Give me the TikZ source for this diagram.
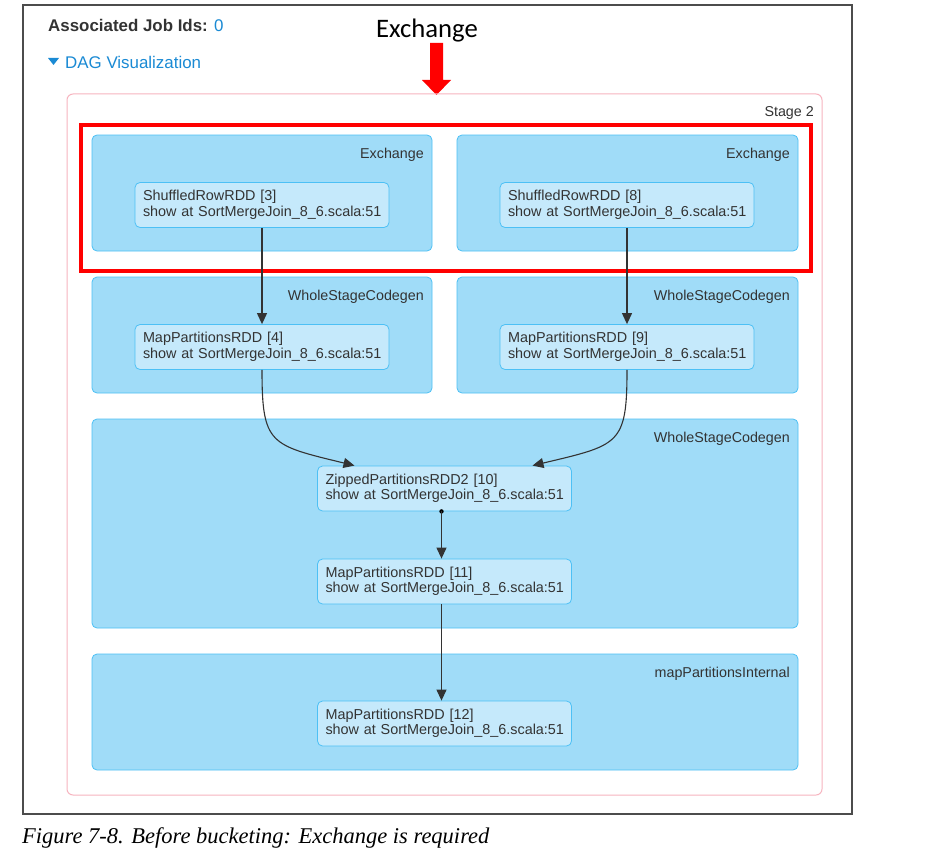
\documentclass[tikz,border=0pt]{standalone}
\usepackage{fontspec}
\setmainfont{Liberation Sans}
\newfontfamily\capfont{Liberation Serif}
\newfontfamily\calfont{Carlito}
\usetikzlibrary{arrows.meta,calc}
\definecolor{grpfill}{HTML}{A0DCF8}
\definecolor{grpline}{HTML}{4DC0F5}
\definecolor{ndfill}{HTML}{C5E9FB}
\definecolor{stageline}{HTML}{F7B5C0}
\definecolor{txt}{HTML}{333333}
\definecolor{link}{HTML}{1A8AD4}
\definecolor{hred}{HTML}{FF0000}
\newcommand{\rddtxt}[1]{\mbox{#1}\\\mbox{show at SortMergeJoin\_8\_6.scala:51}}
\tikzset{
  grp/.style={draw=grpline, fill=grpfill, rounded corners=5pt, line width=0.8pt},
  grplabel/.style={anchor=north east, inner sep=0pt, font=\fontsize{14.3}{16}\selectfont, text=txt},
  rdd/.style={draw=grpline, fill=ndfill, rounded corners=5pt, line width=0.8pt, align=left,
    text width=238pt, inner xsep=8pt, inner ysep=0pt, minimum height=45pt,
    font=\fontsize{14.4}{15.5}\selectfont, text=txt},
  edge/.style={draw=txt, line width=1.1pt, -{Triangle[length=11pt,width=10pt]}}
}
\begin{document}
\begin{tikzpicture}[x=1pt,y=-1pt]
\useasboundingbox (0,0) rectangle (947,856);
\fill[white] (0,0) rectangle (947,856);
% outer frame
\draw[line width=1.5pt, draw=black!70] (23,5) rectangle (852,814);
\node[anchor=west, inner sep=0pt, text=txt, font=\bfseries\fontsize{16.9}{19}\selectfont] (jobs) at (48,25) {Associated Job Ids: \textcolor{link}{\mdseries 0}};
\fill[link] (48,58) -- (59,58) -- (53.5,65) -- cycle;
\node[anchor=west, inner sep=0pt, text=link, font=\fontsize{16.9}{19}\selectfont] (dagvis) at (65,62) {DAG Visualization};
% annotation
\node[inner sep=0pt, font=\calfont\fontsize{26.7}{30}\selectfont] (exlabel) at (427,31) {Exchange};
\fill[hred] (430,43) -- (443,43) -- (443,80) -- (451,80) -- (436.5,95) -- (422,80) -- (430,80) -- cycle;
% stage
\draw[draw=stageline, rounded corners=6pt, line width=1pt] (67,94) rectangle (822,795);
\node[anchor=north east, inner sep=0pt, font=\fontsize{14.3}{16}\selectfont, text=txt] (stagelbl) at (814,106) {Stage 2};
% groups
\draw[grp] (92,135) rectangle (432,251);
\node[grplabel] at (424,148) {Exchange};
\draw[grp] (457,135) rectangle (798,251);
\node[grplabel] at (790,148) {Exchange};
\draw[grp] (92,277) rectangle (432,393);
\node[grplabel] at (424,290) {WholeStageCodegen};
\draw[grp] (457,277) rectangle (798,393);
\node[grplabel] at (790,290) {WholeStageCodegen};
\draw[grp] (92,419) rectangle (798,628);
\node[grplabel] at (790,432) {WholeStageCodegen};
\draw[grp] (92,654) rectangle (798,770);
\node[grplabel] at (790,667) {mapPartitionsInternal};
% red highlight
\draw[hred, line width=4pt] (81,125) rectangle (811,271);
% rdd nodes
\node[rdd] (r3) at (262,205) {\rddtxt{ShuffledRowRDD [3]}};
\node[rdd] (r8) at (627,205) {\rddtxt{ShuffledRowRDD [8]}};
\node[rdd] (r4) at (262,347) {\rddtxt{MapPartitionsRDD [4]}};
\node[rdd] (r9) at (627,347) {\rddtxt{MapPartitionsRDD [9]}};
\node[rdd] (r10) at (444.5,488.5) {\rddtxt{ZippedPartitionsRDD2 [10]}};
\node[rdd] (r11) at (444.5,581.5) {\rddtxt{MapPartitionsRDD [11]}};
\node[rdd] (r12) at (444.5,723.5) {\rddtxt{MapPartitionsRDD [12]}};
% edges
\draw[edge] (r3.south) -- (r4.north);
\draw[edge] (r8.south) -- (r9.north);
\coordinate (z1) at ($(r10.north)+(-90,0)$);
\coordinate (z2) at ($(r10.north)+(88,0)$);
\draw[edge] (r4.south) .. controls (262,445) and (270,445) .. (z1);
\draw[edge] (r9.south) .. controls (627,445) and (619,445) .. (z2);
\coordinate (zd) at ($(r10.south)+(-3,0)$);
\fill[black] (zd) circle (2.2pt);
\draw[edge] (zd) -- (zd |- r11.north);
\draw[edge] (r11.south -| zd) -- (zd |- r12.north);
% caption
\node[anchor=west, inner sep=0pt, font=\capfont\itshape\fontsize{22.5}{25}\selectfont] (cap) at (22,838) {Figure 7-8. Before bucketing: Exchange is required};
\end{tikzpicture}
\end{document}
